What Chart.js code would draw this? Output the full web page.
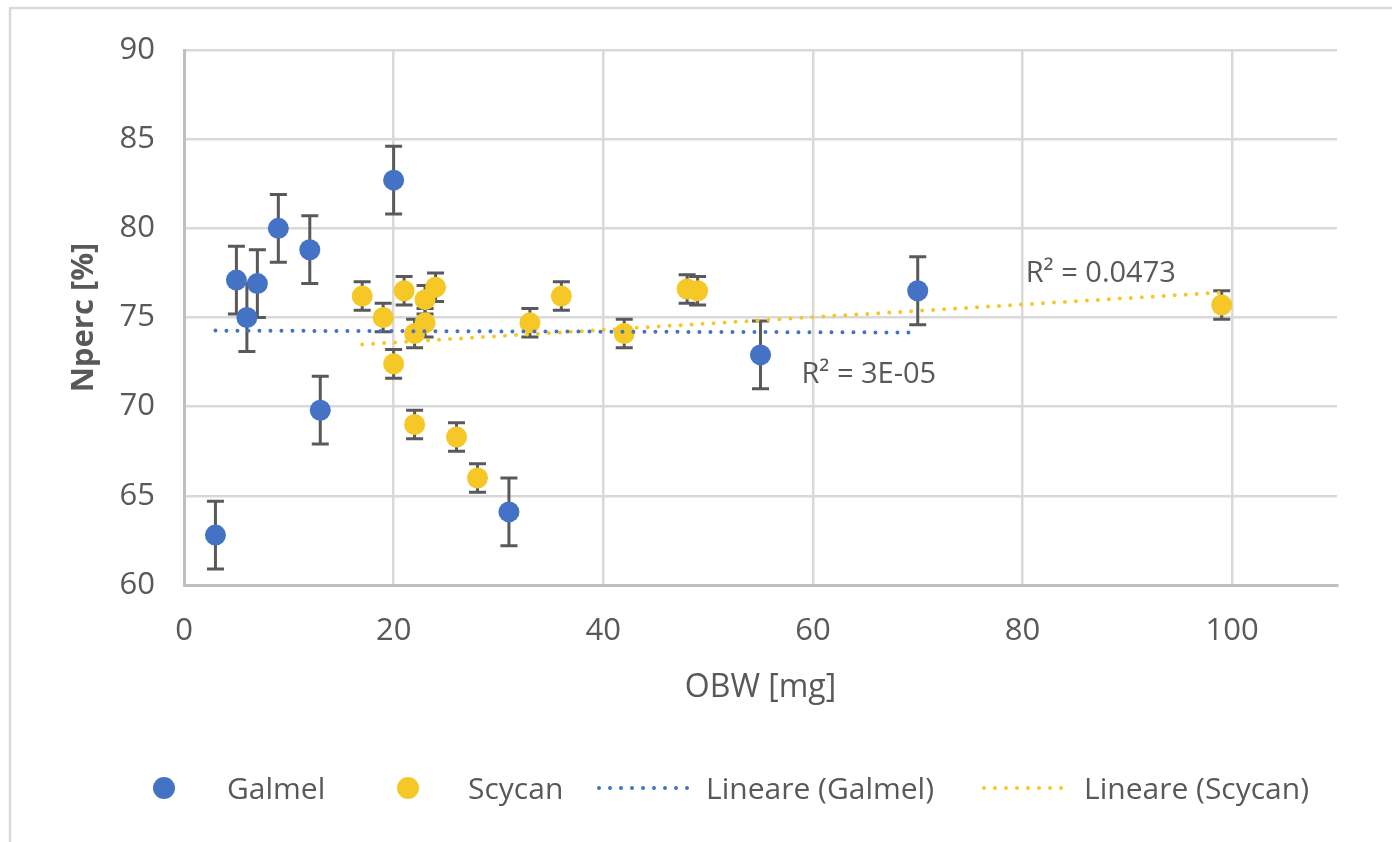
<!DOCTYPE html>
<html><head><meta charset="utf-8">
<script src="https://cdn.jsdelivr.net/npm/chart.js@4.4.1/dist/chart.umd.min.js"></script>
<style>html,body{margin:0;padding:0;background:#fff}canvas{display:block}</style>
</head><body>
<canvas id="c" width="1392" height="842"></canvas>
<script>
// ---- data ----
const galmelX   = [3, 5, 6, 7, 9, 12, 13, 20, 31, 55, 70];
const galmelY   = [62.8, 77.1, 75.0, 76.9, 80.0, 78.8, 69.8, 82.7, 64.1, 72.9, 76.5];
const galmelErr = [1.9, 1.9, 1.9, 1.9, 1.9, 1.9, 1.9, 1.9, 1.9, 1.9, 1.9];
const scycanX   = [17, 19, 20, 21, 22, 22, 23, 23, 24, 26, 28, 33, 36, 42, 48, 49, 99];
const scycanY   = [76.2, 75.0, 72.4, 76.5, 69.0, 74.1, 74.7, 76.0, 76.7, 68.3, 66.0, 74.7, 76.2, 74.1, 76.6, 76.5, 75.7];
const scycanErr = [0.8, 0.8, 0.8, 0.8, 0.8, 0.8, 0.8, 0.8, 0.8, 0.8, 0.8, 0.8, 0.8, 0.8, 0.8, 0.8, 0.8];
const seriesNames = ['Galmel', 'Scycan'];
const trendNames  = ['Lineare (Galmel)', 'Lineare (Scycan)'];
const r2Text = ['R² = 3E-05', 'R² = 0.0473'];
const r2X = [58.9, 80.3];
const r2Y = [71.3, 77.0];
const xTicks = [0, 20, 40, 60, 80, 100];
const yTicks = [60, 65, 70, 75, 80, 85, 90];
const xTitle = 'OBW [mg]';
const yTitle = 'Nperc [%]';

// ---- styles ----
const BLUE = '#4472C4';
const YELLOW = '#F5C828';
const TXT = '#595959';
const FONT = "'Open Sans', sans-serif";

function pts(xs, ys) { return xs.map((x, i) => ({x: x, y: ys[i]})); }
function linFit(xs, ys) {
  const n = xs.length;
  const mx = xs.reduce((a, b) => a + b, 0) / n;
  const my = ys.reduce((a, b) => a + b, 0) / n;
  let sxy = 0, sxx = 0;
  for (let i = 0; i < n; i++) { sxy += (xs[i] - mx) * (ys[i] - my); sxx += (xs[i] - mx) ** 2; }
  const b = sxy / sxx, a = my - b * mx;
  const x0 = Math.min(...xs), x1 = Math.max(...xs);
  return [{x: x0, y: a + b * x0}, {x: x1, y: a + b * x1}];
}

const errSets = [
  {xs: galmelX, ys: galmelY, err: galmelErr},
  {xs: scycanX, ys: scycanY, err: scycanErr}
];

const bgPlugin = {
  id: 'bg',
  beforeDraw(chart) {
    const ctx = chart.ctx;
    ctx.save();
    ctx.fillStyle = '#fff';
    ctx.fillRect(0, 0, chart.width, chart.height);
    ctx.strokeStyle = '#D9D9D9';
    ctx.lineWidth = 2.5;
    ctx.strokeRect(10, 8, chart.width + 20, chart.height + 20);
    ctx.restore();
  }
};

const errPlugin = {
  id: 'errbars',
  beforeDatasetsDraw(chart) {
    const ctx = chart.ctx, xs = chart.scales.x, ys = chart.scales.y;
    ctx.save();
    ctx.strokeStyle = '#595959';
    ctx.lineWidth = 3;
    ctx.lineCap = 'butt';
    errSets.forEach(s => {
      s.xs.forEach((xv, i) => {
        const px = xs.getPixelForValue(xv);
        const top = ys.getPixelForValue(s.ys[i] + s.err[i]);
        const bot = ys.getPixelForValue(s.ys[i] - s.err[i]);
        ctx.beginPath();
        ctx.moveTo(px, top); ctx.lineTo(px, bot);
        ctx.moveTo(px - 8.5, top); ctx.lineTo(px + 8.5, top);
        ctx.moveTo(px - 8.5, bot); ctx.lineTo(px + 8.5, bot);
        ctx.stroke();
      });
    });
    ctx.restore();
  }
};

const labelPlugin = {
  id: 'r2',
  afterDatasetsDraw(chart) {
    const ctx = chart.ctx, xs = chart.scales.x, ys = chart.scales.y;
    ctx.save();
    ctx.fillStyle = TXT;
    ctx.font = "29px " + FONT;
    ctx.textAlign = 'left';
    ctx.textBaseline = 'alphabetic';
    r2Text.forEach((t, i) => {
      ctx.fillText(t, xs.getPixelForValue(r2X[i]), ys.getPixelForValue(r2Y[i]));
    });
    ctx.restore();
  }
};

const legendPlugin = {
  id: 'customLegend',
  afterDraw(chart) {
    const ctx = chart.ctx;
    const cy = 788, base = 799;
    ctx.save();
    ctx.font = "30px " + FONT;
    ctx.fillStyle = TXT;
    ctx.textBaseline = 'alphabetic';
    // markers
    [[164, BLUE], [408, YELLOW]].forEach(([x, c]) => {
      ctx.beginPath(); ctx.fillStyle = c; ctx.arc(x, cy, 11, 0, Math.PI * 2); ctx.fill();
    });
    // dotted lines
    [[599, 690, BLUE], [984, 1070, YELLOW]].forEach(([a, b, c]) => {
      ctx.beginPath(); ctx.strokeStyle = c; ctx.lineWidth = 4; ctx.lineCap = 'round';
      ctx.setLineDash([0, 11]); ctx.moveTo(a, cy); ctx.lineTo(b, cy); ctx.stroke();
    });
    ctx.setLineDash([]);
    ctx.fillStyle = TXT;
    ctx.fillText(seriesNames[0], 227, base);
    ctx.fillText(seriesNames[1], 468, base);
    ctx.fillText(trendNames[0], 706, base);
    ctx.fillText(trendNames[1], 1084, base);
    ctx.restore();
  }
};

new Chart(document.getElementById('c'), {
  type: 'scatter',
  data: {
    datasets: [
      {label: trendNames[0], data: linFit(galmelX, galmelY), showLine: true, borderColor: BLUE,
       borderWidth: 4, borderDash: [0, 11], borderCapStyle: 'round', pointRadius: 0, order: 0},
      {label: trendNames[1], data: linFit(scycanX, scycanY), showLine: true, borderColor: YELLOW,
       borderWidth: 4, borderDash: [0, 11], borderCapStyle: 'round', pointRadius: 0, order: 1},
      {label: seriesNames[0], data: pts(galmelX, galmelY), backgroundColor: BLUE, borderWidth: 0,
       pointRadius: 10.5, order: 3},
      {label: seriesNames[1], data: pts(scycanX, scycanY), backgroundColor: YELLOW, borderWidth: 0,
       pointRadius: 10.5, order: 2}
    ]
  },
  options: {
    responsive: false,
    animation: false,
    layout: {padding: {left: 0, right: 55, top: 50, bottom: 0}},
    plugins: {legend: {display: false}, tooltip: {enabled: false}},
    scales: {
      x: {
        type: 'linear', min: 0, max: 110,
        afterBuildTicks(s) { s.ticks = xTicks.map(v => ({value: v})); },
        afterFit(s) { s.height = 257; },
        grid: {color: '#D9D9D9', lineWidth: 2.5, drawTicks: false},
        border: {color: '#BFBFBF', width: 3},
        ticks: {color: TXT, font: {family: FONT, size: 31}, padding: 28, maxRotation: 0},
        title: {display: true, text: xTitle, color: TXT, font: {family: FONT, size: 32, lineHeight: 1.2},
                padding: {top: 0, bottom: 135}}
      },
      y: {
        type: 'linear', min: 60, max: 90,
        afterBuildTicks(s) { s.ticks = yTicks.map(v => ({value: v})); },
        afterFit(s) { s.width = 184; },
        grid: {color: '#D9D9D9', lineWidth: 2.5, drawTicks: false},
        border: {color: '#BFBFBF', width: 3},
        ticks: {color: TXT, font: {family: FONT, size: 31}, padding: 29},
        title: {display: true, text: yTitle, color: TXT, font: {family: FONT, size: 31, weight: 'bold', lineHeight: 1.2},
                padding: {top: 66, bottom: 0}}
      }
    }
  },
  plugins: [bgPlugin, errPlugin, labelPlugin, legendPlugin]
});
</script>
</body></html>
